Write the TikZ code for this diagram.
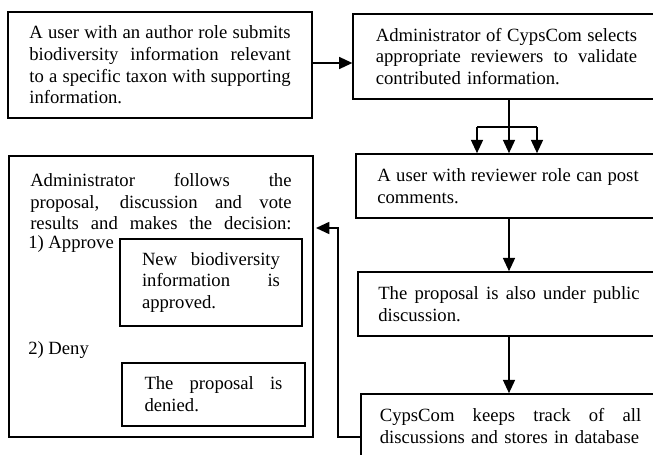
\documentclass[tikz,border=0pt]{standalone}
\usepackage{fontspec}
\setmainfont{Liberation Serif}
\usetikzlibrary{arrows.meta,positioning,calc}
\newcommand{\fullline}[1]{\makebox[\hsize][s]{\spaceskip=0pt\xspaceskip=0pt\relax #1}}
\newcommand{\boxfont}{\fontsize{14pt}{16.3pt}\selectfont}
\tikzset{
  infobox/.style={draw=black, line width=1.2pt, inner sep=0pt, text width=196pt, align=left, font=\boxfont},
  subbox/.style={draw=black, line width=1.2pt, inner sep=0pt, text width=103.5pt, align=left, font=\boxfont},
  plain/.style={inner sep=0pt, font=\boxfont, align=left},
  flow/.style={-{Triangle[length=10pt,width=9pt]}, line width=1.3pt},
  link/.style={line width=1.3pt}
}

\begin{document}
\begin{tikzpicture}[x=0.75pt, y=-0.75pt]
  \useasboundingbox (0,0) rectangle (653,454);
  \clip (0,0) rectangle (653,454);
  % right column, top to bottom
  \node[infobox, minimum width=228pt, minimum height=79.5pt] (submit) at (160,65) {\fullline{A user with an author role submits}\\ \fullline{biodiversity information relevant}\\ \fullline{to a specific taxon with supporting}\\ information.};
  \node[infobox, minimum width=230pt, minimum height=63.75pt] (select) at (506.5,56.5) {\fullline{Administrator of CypsCom selects}\\ \fullline{appropriate reviewers to validate}\\ contributed information.};
  \node[infobox, minimum width=228pt, minimum height=48pt] (review) at (508,186) {\fullline{A user with reviewer role can post}\\ comments.};
  \node[infobox, minimum width=226.5pt, minimum height=48pt] (public) at (509,304) {\fullline{The proposal is also under public}\\ discussion.};
  \node[infobox, minimum width=224pt, minimum height=48pt] (track) at (510.5,426) {\fullline{CypsCom keeps track of all}\\ discussions and stores in database};
  % decision box
  \node[draw=black, line width=1.2pt, inner sep=0pt, minimum width=228pt, minimum height=210.75pt, anchor=north west] (decide) at (8,155) {};
  \node[plain, text width=196pt, anchor=north west] (decidetext) at (30,173) {\fullline{Administrator follows the}\\ \fullline{proposal, discussion and vote}\\ \fullline{results and makes the decision:}};
  \node[plain, anchor=west] (approve) at (28,244) {1) Approve};
  \node[subbox, minimum width=136.5pt, minimum height=65.25pt] (approved) at (211,282.5) {\fullline{New biodiversity}\\ \fullline{information is}\\ approved.};
  \node[plain, anchor=west] (deny) at (28,350) {2) Deny};
  \node[subbox, minimum width=137.25pt, minimum height=47.25pt] (denied) at (213.5,394.5) {\fullline{The proposal is}\\ denied.};
  % connectors
  \coordinate (fan) at (509,127);
  \coordinate (fanl) at (477,127);
  \coordinate (fanr) at (537,127);
  \coordinate (back) at (338,437);
  \coordinate (backend) at (316,228);
  \draw[flow] (submit.east |- 0,63) -- (select.west |- 0,63);
  \draw[link] (select.south -| fan) -- (fan);
  \draw[link] (fanl) -- (fanr);
  \foreach \c in {fanl,fan,fanr} \draw[flow] (\c) -- (\c |- review.north);
  \draw[flow] (review.south -| fan) -- (public.north -| fan);
  \draw[flow] (public.south -| fan) -- (track.north -| fan);
  \draw[flow] (track.west |- back) -- (back) |- (backend);
\end{tikzpicture}
\end{document}
